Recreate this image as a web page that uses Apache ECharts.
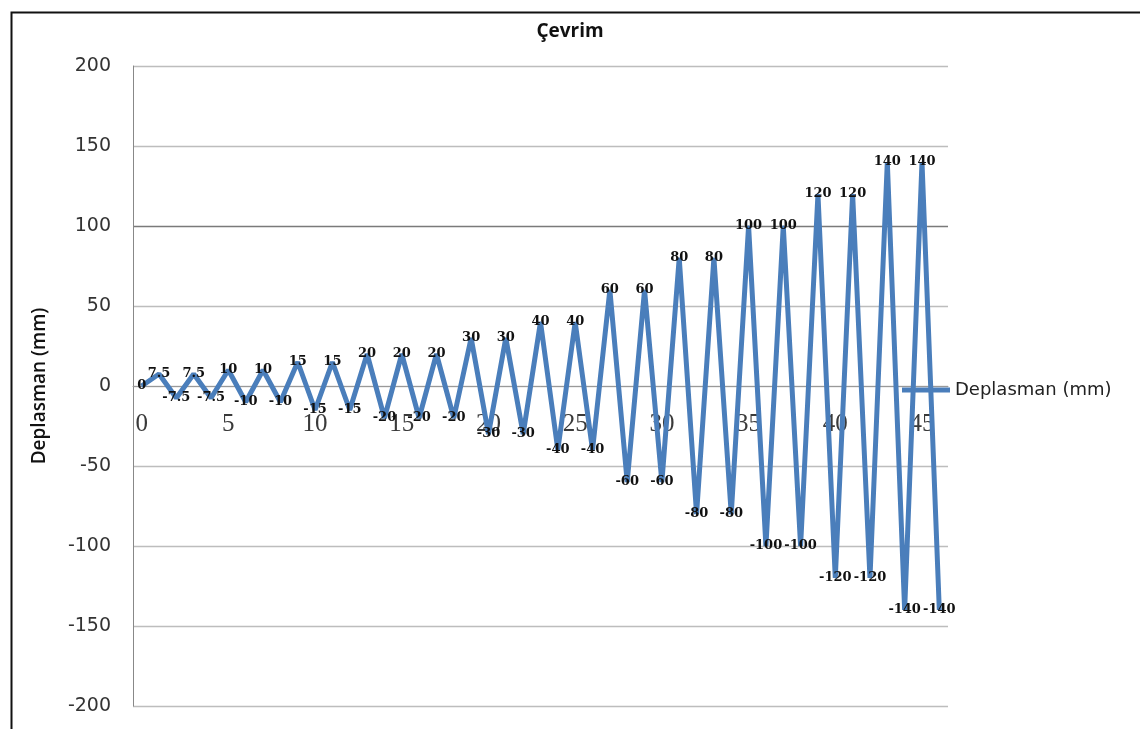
<!DOCTYPE html>
<html>
<head>
<meta charset="utf-8">
<script src="https://cdn.jsdelivr.net/npm/echarts@6/dist/echarts.min.js"></script>
<style>
html,body{margin:0;padding:0;background:#fff;}
#chart{width:1140px;height:729px;}
</style>
</head>
<body>
<div id="chart"></div>
<script>
// Cycle index (category axis)
const cycles = [];
for (let i = 0; i <= 46; i++) cycles.push(String(i));

// Displacement values (mm)
const displacement = [
  0, 7.5, -7.5, 7.5, -7.5, 10, -10, 10, -10, 15, -15, 15, -15,
  20, -20, 20, -20, 20, -20, 30, -30, 30, -30, 40, -40, 40, -40,
  60, -60, 60, -60, 80, -80, 80, -80, 100, -100, 100, -100,
  120, -120, 120, -120, 140, -140, 140, -140
];

const yTicks = [-200, -150, -100, -50, 0, 50, 100, 150, 200];
const seriesName = 'Deplasman (mm)';
const chartTitle = 'Çevrim';

const chart = echarts.init(document.getElementById('chart'));

const splitColors = yTicks.map(t => t === 100 ? '#7a7a7a' : '#bdbdbd');
const lineColor = '#4A7EBB';

chart.setOption({
  animation: false,
  backgroundColor: '#ffffff',
  title: {
    text: chartTitle,
    left: 'center',
    top: 17,
    textStyle: { fontFamily: 'Open Sans', fontWeight: 'bold', fontSize: 19, color: '#111' }
  },
  graphic: [{
    type: 'rect',
    left: 9, top: 10,
    shape: { x: 0, y: 0, width: 1200, height: 800 },
    style: { fill: 'none', stroke: '#111', lineWidth: 2 },
    silent: true
  }],
  legend: {
    data: [seriesName],
    left: 897,
    top: 376,
    icon: 'rect',
    itemWidth: 48,
    itemHeight: 5,
    itemGap: 0,
    itemStyle: { color: lineColor, opacity: 1 },
    textStyle: { fontFamily: 'DejaVu Sans', fontSize: 18, color: '#222', padding: [0, 0, 0, 0] }
  },
  grid: { left: 133, right: 192, top: 66, bottom: 23, outerBoundsMode: 'none', containLabel: false },
  xAxis: {
    type: 'category',
    data: cycles,
    boundaryGap: true,
    position: 'bottom',
    offset: -320,
    axisLine: { onZero: false, lineStyle: { color: '#999', width: 1 } },
    axisTick: { show: false },
    axisLabel: {
      interval: 4,
      margin: 26,
      fontFamily: 'Liberation Serif',
      fontSize: 25,
      color: '#3a3a3a'
    },
    splitLine: { show: false }
  },
  yAxis: {
    type: 'value',
    min: -200,
    max: 200,
    interval: 50,
    name: seriesName,
    nameLocation: 'middle',
    nameGap: 84,
    nameTextStyle: { fontFamily: 'Open Sans', fontWeight: 600, fontSize: 19, color: '#111' },
    axisLine: { show: true, lineStyle: { color: '#888', width: 1 } },
    axisTick: { show: false },
    axisLabel: {
      margin: 22,
      fontFamily: 'DejaVu Sans',
      fontSize: 19,
      color: '#333'
    },
    splitLine: { show: true, lineStyle: { color: splitColors, width: 1.3 } }
  },
  series: [{
    name: seriesName,
    type: 'line',
    data: displacement,
    symbol: 'circle',
    symbolSize: 1,
    showSymbol: true,
    showAllSymbol: true,
    lineStyle: { color: lineColor, width: 5 },
    itemStyle: { color: lineColor },
    label: {
      show: true,
      position: 'inside',
      fontFamily: 'DejaVu Serif',
      fontWeight: 'bold',
      fontSize: 13,
      color: '#111'
    },
    labelLayout: { hideOverlap: false }
  }]
});
</script>
</body>
</html>
